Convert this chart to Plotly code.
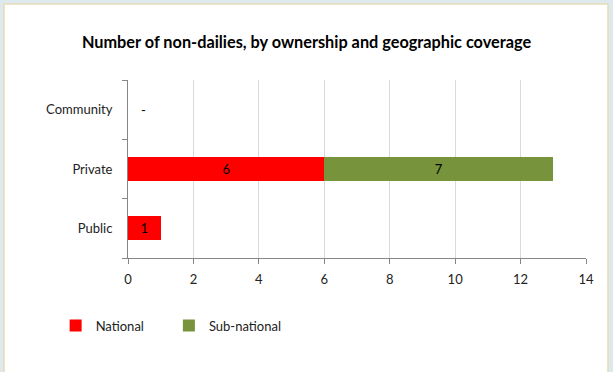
"""
Horizontal stacked bar: number of non-dailies by ownership and geographic coverage
"""
import plotly.graph_objects as go

ownership = ['Public', 'Private', 'Community']
national = [1, 6, 0]
sub_national = [0, 7, 0]
x_ticks = [0, 2, 4, 6, 8, 10, 12, 14]

FONT = 'Lato'
PAD = '\u00a0' * 6  # widen gap between legend entries like Excel


def label(values):
    # Excel accounting style: zero shown as "-", hidden on empty segments
    return [str(v) if v else '' for v in values]


fig = go.Figure()
fig.add_trace(go.Bar(y=ownership, x=national, name='National' + PAD, orientation='h',
                     marker=dict(color='#ff0000', line=dict(width=0)),
                     text=label(national), textposition='inside', insidetextanchor='middle',
                     textfont=dict(color='black', size=13)))
fig.add_trace(go.Bar(y=ownership, x=sub_national, name='Sub-national', orientation='h',
                     marker=dict(color='#77933c', line=dict(width=0)),
                     text=label(sub_national), textposition='inside', insidetextanchor='middle',
                     textfont=dict(color='black', size=13)))

# dash label for the all-zero category
for cat, n, s in zip(ownership, national, sub_national):
    if n == 0 and s == 0:
        fig.add_annotation(x=0, y=cat, text='-', showarrow=False, xanchor='left',
                           xshift=11, font=dict(family=FONT, size=13, color='black'))

# chart frame on the light blue page
fig.add_shape(type='rect', xref='paper', yref='paper', x0=-0.2707, x1=1.048, y0=-0.75, y1=1.427,
              fillcolor='white', line=dict(color='#e8dcb8', width=1.5), layer='below')

fig.update_layout(
    width=613, height=372,
    barmode='stack', bargap=0.6,
    paper_bgcolor='#dde9ec', plot_bgcolor='rgba(0,0,0,0)',
    margin=dict(l=128, r=27, t=80, b=114),
    font=dict(family=FONT, size=13, color='#222222'),
    title=dict(text='<b>Number of non-dailies, by ownership and geographic coverage</b>',
               x=0.5, xref='container', xanchor='center', y=0.887, yanchor='middle',
               font=dict(family=FONT, size=16.3, color='black')),
    legend=dict(orientation='h', x=-0.158, xanchor='left', y=-0.38, yanchor='middle',
                font=dict(family=FONT, size=13, color='#222222'),
                bgcolor='rgba(0,0,0,0)', traceorder='normal'),
    showlegend=True,
)
fig.update_xaxes(range=[0, 14], tickvals=x_ticks, showgrid=True, gridcolor='#d9d9d9',
                 showline=True, linecolor='#868686', ticks='outside', ticklen=5,
                 tickcolor='#868686', zeroline=False, ticklabelstandoff=4)
fig.update_yaxes(categoryorder='array', categoryarray=ownership, showgrid=False,
                 showline=True, linecolor='#868686', ticks='outside', ticklen=5,
                 tickcolor='#868686', tickson='boundaries', ticklabelstandoff=12)

fig.write_html('out.html', config={'displayModeBar': False},
               post_script="document.body.style.margin='0';")
